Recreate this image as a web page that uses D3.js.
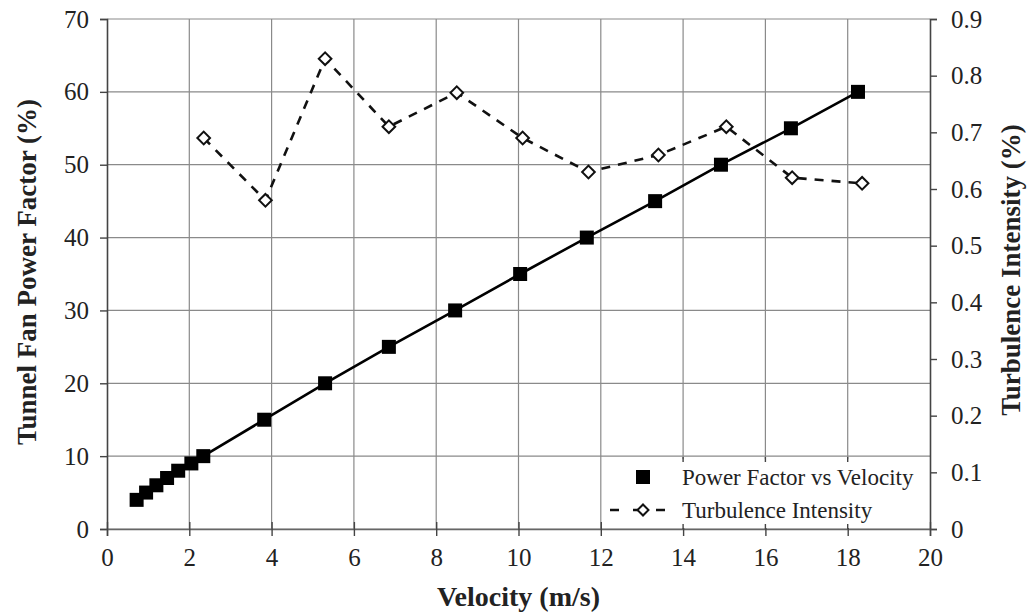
<!DOCTYPE html>
<html><head><meta charset="utf-8">
<script src="https://cdn.jsdelivr.net/npm/d3@7/dist/d3.min.js"></script>
<style>body{margin:0;background:#fff}svg text{font-family:"Liberation Serif","DejaVu Serif",serif;fill:#222}</style>
</head><body><svg id="c" width="1030" height="615"></svg>
<script>
const pfVelocity = [0.72,0.95,1.2,1.46,1.73,2.05,2.34,3.82,5.3,6.85,8.46,10.04,11.66,13.32,14.92,16.62,18.25];
const pfValues   = [4,5,6,7,8,9,10,15,20,25,30,35,40,45,50,55,60];
const tiVelocity = [2.35,3.85,5.3,6.85,8.5,10.1,11.7,13.4,15.05,16.65,18.35];
const tiValues   = [0.69,0.58,0.83,0.71,0.77,0.69,0.63,0.66,0.71,0.62,0.61];
const xTicks = [0,2,4,6,8,10,12,14,16,18,20];
const yLeftTicks = [0,10,20,30,40,50,60,70];
const yRightTicks = [0,0.1,0.2,0.3,0.4,0.5,0.6,0.7,0.8,0.9];
const legendLabels = ["Power Factor vs Velocity","Turbulence Intensity"];

const svg = d3.select("#c");
const L=107,R=930,T=19,B=529;
const x = d3.scaleLinear().domain([0,20]).range([L,R]);
const yL = d3.scaleLinear().domain([0,70]).range([B,T]);
const yR = d3.scaleLinear().domain([0,0.9]).range([B,T]);
const grid = "#8a8a8a";

svg.append("g").selectAll("line").data(yLeftTicks).join("line")
  .attr("x1",L).attr("x2",R).attr("y1",d=>yL(d)).attr("y2",d=>yL(d))
  .attr("stroke",grid).attr("stroke-width",1.2);
svg.append("g").selectAll("line").data(xTicks.slice(1,-1)).join("line")
  .attr("x1",d=>x(d)).attr("x2",d=>x(d)).attr("y1",T).attr("y2",B)
  .attr("stroke",grid).attr("stroke-width",1.2);

const axL = svg.append("g").attr("transform",`translate(${L},0)`)
  .call(d3.axisLeft(yL).tickValues(yLeftTicks).tickSize(7).tickPadding(11).tickFormat(d3.format("d")));
const axR = svg.append("g").attr("transform",`translate(${R},0)`)
  .call(d3.axisRight(yR).tickValues(yRightTicks).tickSize(7).tickPadding(14).tickFormat(d=>d===0?"0":d3.format(".1f")(d)));
const axB = svg.append("g").attr("transform",`translate(0,${B})`)
  .call(d3.axisBottom(x).tickValues(xTicks).tickSize(7).tickPadding(12).tickFormat(d3.format("d")));
axB.selectAll(".tick line").attr("y1",-7);
[axL,axR,axB].forEach(a=>{
  a.select(".domain").attr("stroke","#444").attr("stroke-width",1.6);
  a.selectAll(".tick line").attr("stroke","#444").attr("stroke-width",1.4);
  a.selectAll("text").style("font-size","25px").attr("fill","#222");
});
axB.select(".domain").attr("stroke","#666");

const tiData = tiVelocity.map((v,i)=>[v,tiValues[i]]);
svg.append("path").datum(tiData)
  .attr("d",d3.line().x(d=>x(d[0])).y(d=>yR(d[1])))
  .attr("fill","none").attr("stroke","#111").attr("stroke-width",2.6).attr("stroke-dasharray","9,8");
svg.append("g").selectAll("path").data(tiData).join("path")
  .attr("d",d3.symbol().type(d3.symbolSquare).size(80)())
  .attr("transform",d=>`translate(${x(d[0])},${yR(d[1])}) rotate(45)`)
  .attr("fill","#fff").attr("stroke","#111").attr("stroke-width",2);

const pfData = pfVelocity.map((v,i)=>[v,pfValues[i]]);
svg.append("path").datum(pfData)
  .attr("d",d3.line().x(d=>x(d[0])).y(d=>yL(d[1])))
  .attr("fill","none").attr("stroke","#000").attr("stroke-width",2.6);
const sq=14;
svg.append("g").selectAll("rect").data(pfData).join("rect")
  .attr("x",d=>x(d[0])-sq/2).attr("y",d=>yL(d[1])-sq/2).attr("width",sq).attr("height",sq)
  .attr("fill","#000");

const lg = svg.append("g");
lg.append("rect").attr("x",605).attr("y",459).attr("width",R-605-1).attr("height",B-459-1).attr("fill","#fff");
lg.selectAll("line.a").data([14,16,18]).join("line")
  .attr("x1",d=>x(d)).attr("x2",d=>x(d)).attr("y1",457).attr("y2",462).attr("stroke","#444").attr("stroke-width",1.4);
lg.selectAll("line.b").data([14,16,18]).join("line").attr("class","b")
  .attr("x1",d=>x(d)).attr("x2",d=>x(d)).attr("y1",524).attr("y2",529).attr("stroke","#444").attr("stroke-width",1.4);
lg.append("rect").attr("x",643-7).attr("y",477-7).attr("width",14).attr("height",14).attr("fill","#000");
lg.append("line").attr("x1",610).attr("x2",677).attr("y1",510).attr("y2",510)
  .attr("stroke","#111").attr("stroke-width",2.6).attr("stroke-dasharray","9,14");
lg.append("path").attr("d",d3.symbol().type(d3.symbolSquare).size(60)())
  .attr("transform","translate(643,510) rotate(45)").attr("fill","#fff").attr("stroke","#111").attr("stroke-width",2);
lg.selectAll("text").data(legendLabels).join("text")
  .attr("x",682).attr("y",(d,i)=>477+i*33).attr("dy","0.35em")
  .style("font-size","23px").text(d=>d);

svg.append("text").attr("x",(L+R)/2).attr("y",606).attr("text-anchor","middle")
  .style("font-size","28px").style("font-weight","bold").text("Velocity (m/s)");
svg.append("text").attr("transform",`translate(36,${272}) rotate(-90)`).attr("text-anchor","middle")
  .style("font-size","27px").style("font-weight","bold").text("Tunnel Fan Power Factor (%)");
svg.append("text").attr("transform",`translate(1020,${270}) rotate(-90)`).attr("text-anchor","middle")
  .style("font-size","27px").style("font-weight","bold").text("Turbulence Intensity (%)");
</script></body></html>
